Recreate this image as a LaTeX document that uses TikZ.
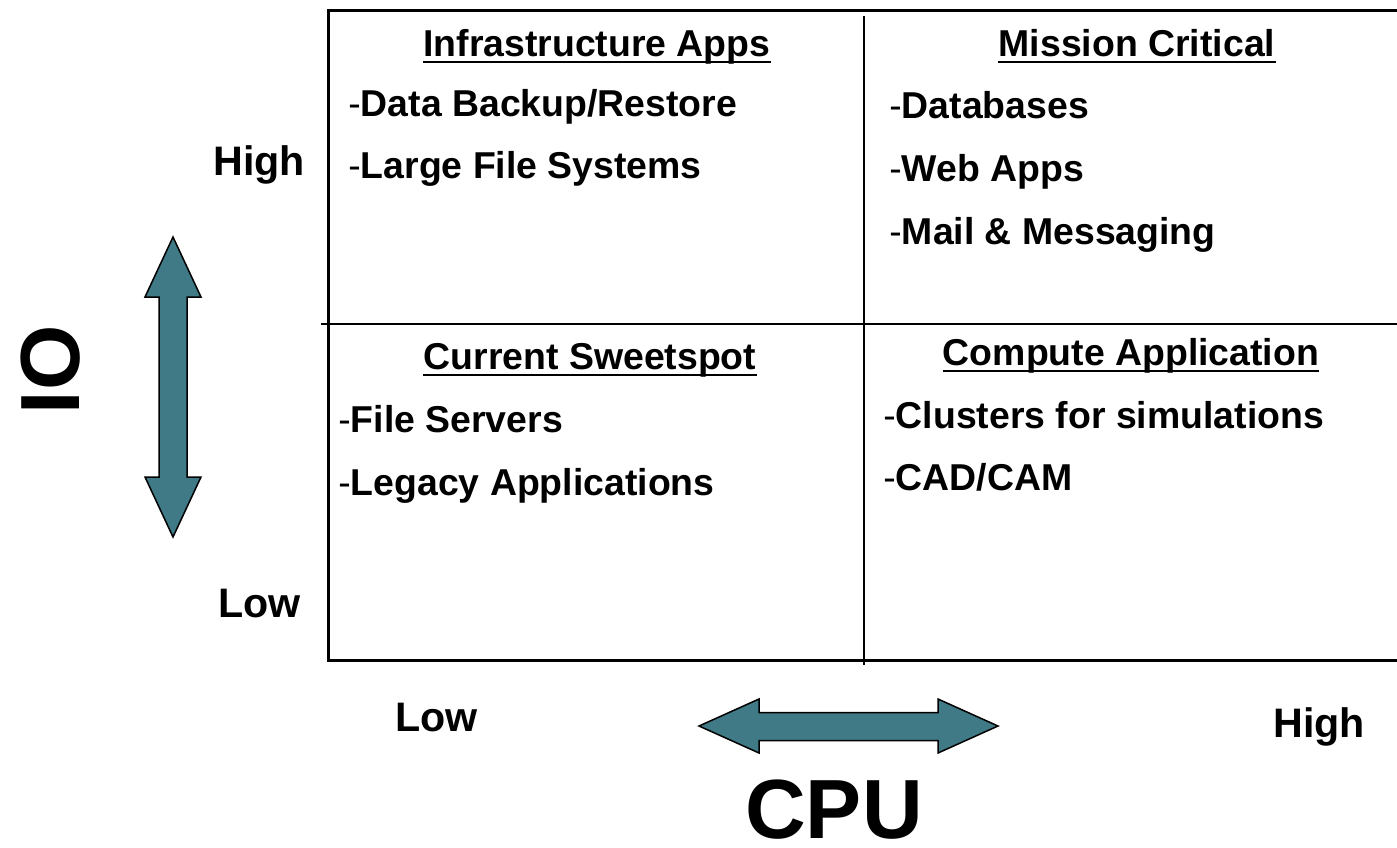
\documentclass[tikz,border=0pt]{standalone}
\usepackage{fontspec}
\setmainfont{Liberation Sans}
\definecolor{tealfill}{RGB}{64,122,134}
\newcommand{\dsh}{{\mdseries -}}
\begin{document}
\begin{tikzpicture}[x=0.5pt,y=-0.5pt,
  lbl/.style={inner sep=0pt,font=\fontsize{18.7}{22}\selectfont\bfseries},
  item/.style={lbl,anchor=base west},
  ttl/.style={lbl,anchor=base},
  axlbl/.style={inner sep=0pt,anchor=base west,font=\fontsize{20.6}{24}\selectfont\bfseries},
  big/.style={inner sep=0pt,font=\fontsize{42}{50}\selectfont\bfseries},
  frame/.style={line width=1.5pt},
  divider/.style={line width=1pt},
  uline/.style={line width=1pt},
  fatarrow/.style={fill=tealfill,draw=black,line width=0.75pt,line join=miter}]
\useasboundingbox (0,0) rectangle (1397,847);

% frame
\coordinate (tr) at (1397,10);
\coordinate (tl) at (328,10);
\coordinate (bl) at (328,660);
\coordinate (br) at (1397,660);
\draw[frame] (tr) -- (tl) -- (bl) -- (br);
\coordinate (vt) at (864,16);
\coordinate (vb) at (864,665);
\draw[divider] (vt) -- (vb);
\coordinate (hl) at (321,324);
\coordinate (hr) at (1397,324);
\draw[divider] (hl) -- (hr);

% quadrant titles
\node[ttl] (t1) at (597,56) {Infrastructure Apps};
\node[ttl] (t2) at (1137,56) {Mission Critical};
\node[ttl] (t3) at (590,369) {Current Sweetspot};
\node[ttl] (t4) at (1131,365) {Compute Application};
\foreach \t in {t1,t2,t3,t4}
  \draw[uline] ([yshift=-2.8pt]\t.base west) -- ([yshift=-2.8pt]\t.base east);

% items
\node[item] (a1) at (348,116) {\dsh Data Backup/Restore};
\node[item] (a2) at (348,178) {\dsh Large File Systems};
\node[item] (b1) at (889,118) {\dsh Databases};
\node[item] (b2) at (889,181) {\dsh Web Apps};
\node[item] (b3) at (889,244) {\dsh Mail \& Messaging};
\node[item] (c1) at (338,432) {\dsh File Servers};
\node[item] (c2) at (338,495) {\dsh Legacy Applications};
\node[item] (d1) at (883,428) {\dsh Clusters for simulations};
\node[item] (d2) at (883,490) {\dsh CAD/CAM};

% axis labels
\node[axlbl] (yhigh) at (213,175) {High};
\node[axlbl] (ylow) at (218,617) {Low};
\node[axlbl] (xlow) at (395,731) {Low};
\node[axlbl] (xhigh) at (1273,737) {High};
\node[big,anchor=base] (cpu) at (834,838) {CPU};
\node[big,anchor=base,rotate=90] (io) at (79,370) {IO};

% fat double arrows
\draw[fatarrow] (173,237) -- (201,297) -- (187,297) -- (187,477) -- (201,477)
  -- (173,537) -- (145,477) -- (159,477) -- (159,297) -- (145,297) -- cycle;
\draw[fatarrow] (699,726) -- (759,699) -- (759,712.5) -- (938,712.5) -- (938,699)
  -- (998,726) -- (938,753) -- (938,740.5) -- (759,740.5) -- (759,753) -- cycle;
\end{tikzpicture}
\end{document}
